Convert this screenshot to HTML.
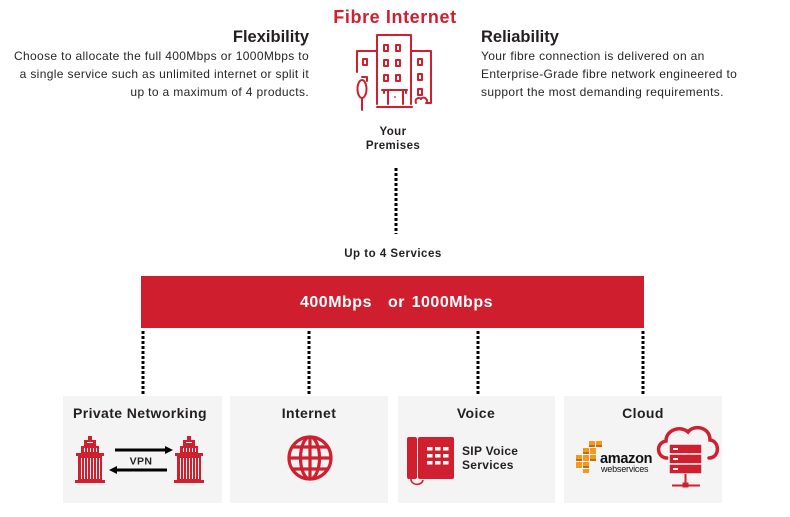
<!DOCTYPE html>
<html>
<head>
<meta charset="utf-8">
<style>
html,body{margin:0;padding:0;background:#fff;}
body{width:790px;height:517px;overflow:hidden;}
svg{display:block;font-family:"Liberation Sans",Arial,sans-serif;}
.t{fill:#231f20;font-weight:bold;}
.p{fill:#262626;font-size:12px;letter-spacing:0.35px;}
</style>
</head>
<body>
<svg width="790" height="517" viewBox="0 0 790 517" xmlns="http://www.w3.org/2000/svg">
<rect width="790" height="517" fill="#fff"/>

<!-- Header -->
<text x="395" y="23" text-anchor="middle" font-size="18" font-weight="bold" fill="#d0202f" style="letter-spacing:0.6px">Fibre Internet</text>

<text class="t" x="309" y="42" text-anchor="end" font-size="16.5">Flexibility</text>
<text class="p" x="309" y="60" text-anchor="end">Choose to allocate the full 400Mbps or 1000Mbps to</text>
<text class="p" x="309" y="78" text-anchor="end">a single service such as unlimited internet or split it</text>
<text class="p" x="309" y="96" text-anchor="end">up to a maximum of 4 products.</text>

<text class="t" x="481" y="42" font-size="16.5">Reliability</text>
<text class="p" x="481" y="60">Your fibre connection is delivered on an</text>
<text class="p" x="481" y="78">Enterprise-Grade fibre network engineered to</text>
<text class="p" x="481" y="96">support the most demanding requirements.</text>

<!-- Building icon -->
<g stroke="#d0202f" stroke-width="2" fill="none" stroke-linecap="round" stroke-linejoin="round">
  <path d="M377,104 V35 H411 V104"/>
  <path d="M376,51 H357 V72"/>
  <path d="M411,51 H431 V103 H426"/>
  <path d="M416,103 C414,98 420,97 421,99 C423,96 428,98 427,103"/>
  <rect x="384" y="45" width="4" height="6"/>
  <rect x="396" y="45" width="4" height="6"/>
  <rect x="384" y="60" width="4" height="6"/>
  <rect x="396" y="60" width="4" height="6"/>
  <rect x="384" y="75" width="4" height="6"/>
  <rect x="396" y="75" width="4" height="6"/>
  <rect x="363" y="59" width="4" height="6"/>
  <path d="M362,77 H367 V81"/>
  <rect x="418" y="59" width="4" height="6"/>
  <rect x="418" y="74" width="4" height="6"/>
  <rect x="418" y="89" width="4" height="6"/>
  <path d="M382,90 H407"/>
  <path d="M388,90 V104 M403,90 V104 M384,90 V93 M406,90 V93"/>
  <path d="M377,107 H412"/>
  <ellipse cx="362" cy="89" rx="4.5" ry="9"/>
  <path d="M362,98 V110"/>
</g>
<circle cx="395" cy="97" r="0.9" fill="#d0202f"/>

<text class="t" x="393" y="135" text-anchor="middle" font-size="11.5" style="letter-spacing:0.4px">Your</text>
<text class="t" x="393" y="149" text-anchor="middle" font-size="11.5" style="letter-spacing:0.4px">Premises</text>

<!-- center dotted connector -->
<line x1="396" y1="168" x2="396" y2="234" stroke="#000" stroke-width="3" stroke-dasharray="3 2"/>

<text class="t" x="393" y="257" text-anchor="middle" font-size="11.5" style="letter-spacing:0.5px">Up to 4 Services</text>

<!-- Red bar -->
<rect x="141" y="276" width="503" height="52" fill="#cf1f2f"/>
<text x="300" y="307" font-size="16" font-weight="bold" fill="#fff" style="letter-spacing:0.5px">400Mbps</text>
<text x="388" y="307" font-size="16" font-weight="bold" fill="#fff" style="letter-spacing:0.5px">or</text>
<text x="493" y="307" text-anchor="end" font-size="16" font-weight="bold" fill="#fff" style="letter-spacing:0.5px">1000Mbps</text>

<!-- lower dotted connectors -->
<g stroke="#000" stroke-width="3" stroke-dasharray="3 2">
  <line x1="143" y1="331" x2="143" y2="396"/>
  <line x1="309" y1="331" x2="309" y2="396"/>
  <line x1="478" y1="331" x2="478" y2="396"/>
  <line x1="643" y1="331" x2="643" y2="396"/>
</g>

<!-- Cards -->
<rect x="63" y="396" width="159" height="107" fill="#f4f4f4"/>
<rect x="230" y="396" width="158" height="107" fill="#f4f4f4"/>
<rect x="398" y="396" width="157" height="107" fill="#f4f4f4"/>
<rect x="564" y="396" width="158" height="107" fill="#f4f4f4"/>

<text class="t" x="140" y="418" text-anchor="middle" font-size="14" style="letter-spacing:0.4px">Private Networking</text>
<text class="t" x="309" y="418" text-anchor="middle" font-size="14" style="letter-spacing:0.4px">Internet</text>
<text class="t" x="476" y="418" text-anchor="middle" font-size="14" style="letter-spacing:0.4px">Voice</text>
<text class="t" x="643" y="418" text-anchor="middle" font-size="14" style="letter-spacing:0.4px">Cloud</text>

<!-- Skyscrapers -->
<g>
  <rect x="75" y="480" width="30" height="3" fill="#d0202f"/>
  <rect x="78" y="455" width="24" height="25" fill="#d0202f"/>
  <rect x="81" y="446" width="18" height="9" fill="#d0202f"/>
  <rect x="76" y="453" width="28" height="3" fill="#d0202f"/>
  <rect x="84" y="440" width="12" height="6" fill="#d0202f"/>
  <rect x="88" y="436" width="4" height="4" fill="#d0202f"/>
  <g stroke="#f4f4f4" stroke-width="1">
    <path d="M81.5,458 V479 M84.5,458 V479 M87.5,458 V479 M90.5,458 V479 M93.5,458 V479 M96.5,458 V479 M99.5,458 V479"/>
    <path d="M84.5,448 V452 M87.5,448 V452 M90.5,448 V452 M93.5,448 V452 M96.5,448 V452"/>
    <path d="M87,442.5 H93"/>
  </g>
</g>
<g transform="translate(99,0)">
  <rect x="75" y="480" width="30" height="3" fill="#d0202f"/>
  <rect x="78" y="455" width="24" height="25" fill="#d0202f"/>
  <rect x="81" y="446" width="18" height="9" fill="#d0202f"/>
  <rect x="76" y="453" width="28" height="3" fill="#d0202f"/>
  <rect x="84" y="440" width="12" height="6" fill="#d0202f"/>
  <rect x="88" y="436" width="4" height="4" fill="#d0202f"/>
  <g stroke="#f4f4f4" stroke-width="1">
    <path d="M81.5,458 V479 M84.5,458 V479 M87.5,458 V479 M90.5,458 V479 M93.5,458 V479 M96.5,458 V479 M99.5,458 V479"/>
    <path d="M84.5,448 V452 M87.5,448 V452 M90.5,448 V452 M93.5,448 V452 M96.5,448 V452"/>
    <path d="M87,442.5 H93"/>
  </g>
</g>

<!-- VPN arrows -->
<line x1="115" y1="450" x2="166" y2="450" stroke="#000" stroke-width="3"/>
<polygon points="165,446 173,450 165,454" fill="#000"/>
<line x1="116" y1="470" x2="167" y2="470" stroke="#000" stroke-width="3"/>
<polygon points="117,466 109,470 117,474" fill="#000"/>
<text class="t" x="141" y="464.5" text-anchor="middle" font-size="10.5" style="letter-spacing:0.4px">VPN</text>

<!-- Globe -->
<g stroke="#d0202f" stroke-width="3.2" fill="none">
  <circle cx="310" cy="458" r="21"/>
  <ellipse cx="310" cy="458" rx="9.5" ry="21"/>
  <line x1="310" y1="437" x2="310" y2="479"/>
  <line x1="289" y1="458" x2="331" y2="458"/>
  <line x1="292" y1="447" x2="328" y2="447"/>
  <line x1="292" y1="469" x2="328" y2="469"/>
</g>

<!-- Phone -->
<rect x="407" y="437" width="10" height="42" rx="2" fill="#d0202f"/>
<rect x="418" y="437" width="36" height="42" rx="2" fill="#d0202f"/>
<path d="M411,479 C411,486 422,486 423,480" stroke="#d0202f" stroke-width="1.6" fill="none"/>
<g fill="#fff">
  <rect x="427" y="447" width="5.5" height="3.5"/>
  <rect x="435" y="447" width="5.5" height="3.5"/>
  <rect x="443" y="447" width="5.5" height="3.5"/>
  <rect x="427" y="454" width="5.5" height="3.5"/>
  <rect x="435" y="454" width="5.5" height="3.5"/>
  <rect x="443" y="454" width="5.5" height="3.5"/>
  <rect x="427" y="461" width="5.5" height="3.5"/>
  <rect x="435" y="461" width="5.5" height="3.5"/>
  <rect x="443" y="461" width="5.5" height="3.5"/>
</g>
<text class="t" x="462" y="455" font-size="12" style="letter-spacing:0.3px">SIP Voice</text>
<text class="t" x="462" y="469" font-size="12" style="letter-spacing:0.3px">Services</text>

<!-- AWS logo -->
<g fill="#f7981d">
  <rect x="589" y="441" width="6" height="6"/>
  <rect x="596" y="441" width="6" height="6"/>
  <rect x="583" y="448" width="6" height="6"/>
  <rect x="590" y="448" width="6" height="6"/>
  <rect x="576" y="455" width="6" height="6"/>
  <rect x="583" y="455" width="6" height="6"/>
  <rect x="590" y="455" width="6" height="6"/>
  <rect x="576" y="462" width="6" height="6"/>
  <rect x="583" y="462" width="6" height="6"/>
  <rect x="583" y="469" width="6" height="4"/>
</g>
<g fill="#c06f10">
  <rect x="589" y="445" width="6" height="2"/>
  <rect x="596" y="445" width="6" height="2"/>
  <rect x="583" y="452" width="6" height="2"/>
  <rect x="576" y="459" width="6" height="2"/>
  <rect x="590" y="459" width="6" height="2"/>
  <rect x="583" y="466" width="6" height="2"/>
</g>
<text x="600" y="463" font-size="14.5" font-weight="bold" fill="#111" style="letter-spacing:-0.3px">amazon</text>
<text x="601" y="472" font-size="9" fill="#111" style="letter-spacing:-0.2px">webservices</text>

<!-- Cloud server icon -->
<path d="M667,458 C657,458 655,443 666,441 C666,430 680,425 688,432 C694,424 710,427 710,440 C720,441 720,458 709,458" stroke="#d0202f" stroke-width="3.5" fill="none" stroke-linecap="round"/>
<g fill="#d0202f" stroke="#f4f4f4" stroke-width="1.5">
  <rect x="669" y="444" width="33" height="10" rx="1"/>
  <rect x="669" y="454" width="33" height="10" rx="1"/>
  <rect x="669" y="464" width="33" height="10" rx="1"/>
</g>
<g fill="#fff">
  <rect x="673" y="448" width="5" height="2"/>
  <rect x="673" y="458" width="5" height="2"/>
  <rect x="673" y="468" width="5" height="2"/>
</g>
<line x1="685.5" y1="474" x2="685.5" y2="485" stroke="#d0202f" stroke-width="2"/>
<line x1="672" y1="485.5" x2="700" y2="485.5" stroke="#d0202f" stroke-width="2"/>
<rect x="682.5" y="482.5" width="6" height="5" fill="#d0202f"/>
</svg>
</body>
</html>
